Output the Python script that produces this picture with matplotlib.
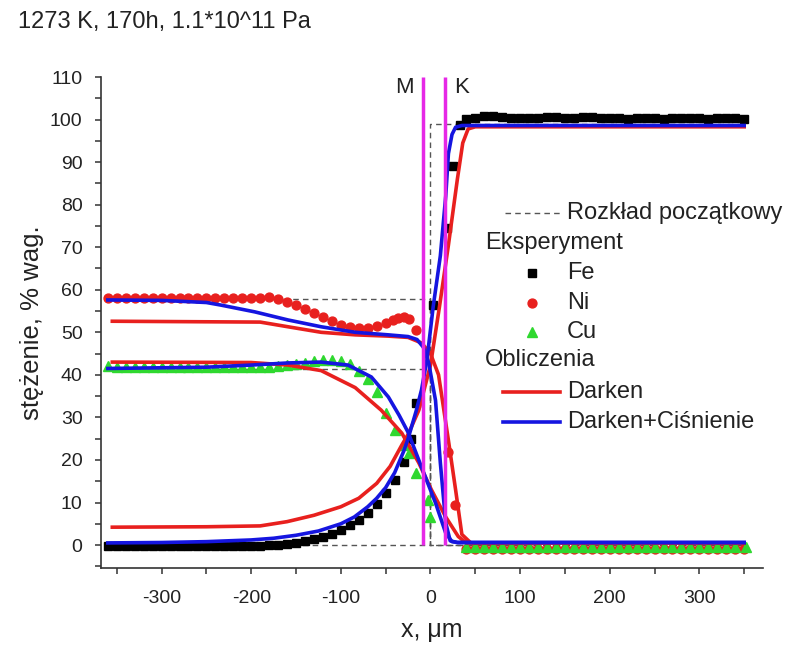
import matplotlib
matplotlib.use("Agg")
import matplotlib.pyplot as plt
from matplotlib.ticker import MultipleLocator

plt.rcParams["font.family"] = ["Liberation Sans", "DejaVu Sans"]
plt.rcParams["axes.unicode_minus"] = False

RED = "#e8201e"
BLUE = "#1515e0"
GREEN = "#2fd82f"
MAGENTA = "#e628e6"
DASH = "#555555"
TXT = "#222222"

# ---------------------------------------------------------------------------
# Data (x in um, concentration in wt%)
# ---------------------------------------------------------------------------

# experiment: Fe (black squares)
fe_x = [-360, -350, -340, -330, -320, -310, -300, -290, -280, -270, -260, -250,
        -240, -230, -220, -210, -200, -190, -180, -170, -160, -150, -140, -130,
        -120, -110, -100, -90, -80, -70, -60, -50, -40, -30, -22, -16, 3, 18,
        25, 33, 40, 50, 60, 70, 80, 90, 100, 110, 120, 130, 140, 150, 160, 170,
        180, 190, 200, 210, 220, 230, 240, 250, 260, 270, 280, 290, 300, 310,
        320, 330, 340, 350]
fe_y = [-0.2, -0.2, -0.2, -0.2, -0.2, -0.2, -0.2, -0.2, -0.2, -0.2, -0.2, -0.2,
        -0.2, -0.2, -0.2, -0.2, -0.2, -0.2, -0.1, 0.1, 0.3, 0.5, 0.9, 1.4,
        2.0, 2.7, 3.6, 4.7, 6.0, 7.6, 9.6, 12.2, 15.4, 19.5, 25.0, 33.5, 56.4, 74.5,
        89.0, 98.8, 100.2, 100.4, 100.8, 100.9, 100.6, 100.4, 100.3, 100.3, 100.4, 100.5,
        100.6, 100.4, 100.3, 100.5, 100.6, 100.3, 100.3, 100.3, 100.2, 100.3, 100.3,
        100.3, 100.2, 100.3, 100.3, 100.3, 100.3, 100.2, 100.3, 100.3, 100.3, 100.2]

# experiment: Ni (red circles)
ni_x = [-360, -350, -340, -330, -320, -310, -300, -290, -280, -270, -260, -250,
        -240, -230, -220, -210, -200, -190, -180, -170, -160, -150, -140, -130,
        -120, -110, -100, -90, -80, -70, -60, -50, -42, -36, -30, -24, -16, 20,
        27, 40, 50, 60, 70, 80, 90, 100, 110, 120, 130, 140, 150, 160, 170, 180,
        190, 200, 210, 220, 230, 240, 250, 260, 270, 280, 290, 300, 310, 320,
        330, 340, 350]
ni_y = [58.0, 58.1, 58.0, 58.1, 58.0, 58.1, 58.0, 58.0, 58.1, 58.0, 58.1, 58.0,
        58.1, 58.0, 58.1, 58.0, 58.1, 58.0, 58.4, 57.8, 57.2, 56.4, 55.5, 54.5,
        53.5, 52.6, 51.8, 51.3, 51.0, 51.0, 51.4, 52.3, 53.0, 53.4, 53.6, 53.2, 50.5, 21.8,
        9.5, -0.9, -0.9, -0.9, -0.9, -0.9, -0.9, -0.9, -0.9, -0.9, -0.9, -0.9, -0.9, -0.9,
        -0.9, -0.9, -0.9, -0.9, -0.9, -0.9, -0.9, -0.9, -0.9, -0.9, -0.9, -0.9, -0.9,
        -0.9, -0.9, -0.9, -0.9, -0.9, -0.9]

# experiment: Cu (green triangles)
cu_x = [-360, -350, -340, -330, -320, -310, -300, -290, -280, -270, -260, -250,
        -240, -230, -220, -210, -200, -190, -180, -170, -160, -150, -140, -130,
        -120, -110, -100, -90, -80, -70, -60, -50, -40, -30, -24, -16, -3, 0,
        40, 50, 60, 70, 80, 90, 100, 110, 120, 130, 140, 150, 160, 170, 180, 190,
        200, 210, 220, 230, 240, 250, 260, 270, 280, 290, 300, 310, 320, 330,
        340, 352]
cu_y = [42.0, 41.8, 41.8, 41.8, 41.8, 41.8, 41.8, 41.8, 41.8, 41.8, 41.8, 41.8,
        41.8, 41.8, 41.8, 41.8, 41.8, 41.8, 41.9, 42.0, 42.3, 42.6, 42.9, 43.2,
        43.4, 43.5, 43.3, 42.5, 41.0, 39.0, 36.0, 31.0, 27.0, 23.5, 21.6, 17.0, 10.6, 6.6,
        -0.5, -0.5, -0.5, -0.5, -0.5, -0.5, -0.5, -0.5, -0.5, -0.5, -0.5, -0.5, -0.5, -0.5,
        -0.5, -0.5, -0.5, -0.5, -0.5, -0.5, -0.5, -0.5, -0.5, -0.5, -0.5, -0.5, -0.5,
        -0.5, -0.5, -0.5, -0.5, -0.5]

# calculation: Darken (red)
darken_fe_x = [-355, -250, -190, -160, -130, -100, -80, -60, -45, -32, -25, -13,
               0, 10, 20, 30, 36, 42, 50, 350]
darken_fe_y = [4.2, 4.3, 4.5, 5.5, 7.0, 9.0, 11.0, 14.5, 18.5, 23.5, 26.0, 31.7,
               42.3, 56.0, 70.5, 86.0, 94.5, 97.8, 98.3, 98.3]
darken_ni_x = [-355, -190, -159, -122, -84, -47, -25, -10, 0, 9, 20, 28, 35, 45, 350]
darken_ni_y = [52.6, 52.4, 51.3, 50.0, 49.4, 49.1, 48.8, 47.5, 45.0, 40.0, 24.6,
               13.0, 2.5, 0.5, 0.5]
darken_cu_x = [-355, -200, -159, -122, -84, -55, -32, -13, 1, 17, 31, 40, 350]
darken_cu_y = [43.0, 42.9, 42.3, 41.0, 37.0, 31.7, 26.3, 19.3, 13.0, 6.6, 2.0, 0.5, 0.5]

# calculation: Darken + pressure (blue)
press_fe_x = [-360, -300, -250, -200, -175, -150, -125, -100, -85, -70, -60, -50,
              -40, -30, -25, -16, -10, -4, 3, 11, 17, 20, 24, 28, 35, 350]
press_fe_y = [0.5, 0.6, 0.8, 1.2, 1.6, 2.3, 3.3, 5.0, 6.6, 9.0, 11.0, 13.5,
              17.0, 22.0, 25.0, 31.5, 36.5, 43.5, 56.0, 68.0, 82.0, 92.0, 96.5,
              98.2, 98.6, 98.6]
press_ni_x = [-360, -300, -250, -234, -196, -159, -122, -84, -47, -25, -15, -8,
              -2, 5.6, 11, 17, 22, 30, 350]
press_ni_y = [57.6, 57.5, 57.0, 56.4, 54.8, 52.9, 51.3, 50.0, 49.4, 49.0, 48.3,
              46.5, 42.8, 34.0, 19.3, 5.2, 1.0, 0.6, 0.6]
press_cu_x = [-360, -250, -200, -159, -122, -92, -66, -47, -35, -25, -10, 5.6,
              17, 24, 30, 350]
press_cu_y = [41.5, 41.8, 42.3, 42.8, 43.0, 42.3, 39.5, 34.8, 30.5, 26.5, 18.3,
              9.9, 2.8, 0.8, 0.6, 0.6]

# initial (step) distribution
init_x = [-360, 0, 0, 352]
init_fe = [0.0, 0.0, 99.0, 99.0]
init_ni = [57.8, 57.8, 0.0, 0.0]
init_cu = [41.4, 41.4, 0.0, 0.0]

# interface markers
M_POS = -8.5
K_POS = 16.0

# ---------------------------------------------------------------------------
# Plot
# ---------------------------------------------------------------------------

fig = plt.figure(figsize=(7.92, 6.46), dpi=100)
ax = fig.add_axes([0.1271, 0.1207, 0.8363, 0.7601])

for ys in (init_fe, init_ni, init_cu):
    ax.plot(init_x, ys, color=DASH, lw=1.0, ls=(0, (4, 3)), zorder=1)

ax.plot(fe_x, fe_y, ls="none", marker="s", ms=5.6, color="black", zorder=2)
ax.plot(ni_x, ni_y, ls="none", marker="o", ms=6.4, color=RED, zorder=2)
ax.plot(cu_x, cu_y, ls="none", marker="^", ms=7, color=GREEN, zorder=2)

for xs, ys in ((darken_fe_x, darken_fe_y), (darken_ni_x, darken_ni_y),
               (darken_cu_x, darken_cu_y)):
    ax.plot(xs, ys, color=RED, lw=2.6, zorder=3, solid_joinstyle="round")
for xs, ys in ((press_fe_x, press_fe_y), (press_ni_x, press_ni_y),
               (press_cu_x, press_cu_y)):
    ax.plot(xs, ys, color=BLUE, lw=2.6, zorder=3, solid_joinstyle="round")

ax.vlines([M_POS, K_POS], 0, 110, color=MAGENTA, lw=2.5, zorder=4)
ax.text(M_POS - 10, 107.5, "M", ha="right", va="center", fontsize=16, color=TXT)
ax.text(K_POS + 10, 107.5, "K", ha="left", va="center", fontsize=16, color=TXT)

# axes styling
ax.set_xlim(-368, 371)
ax.set_ylim(-5.4, 110)
ax.spines[["top", "right"]].set_visible(False)
for s in ("left", "bottom"):
    ax.spines[s].set_linewidth(1.2)
    ax.spines[s].set_color("#333333")
ax.xaxis.set_major_locator(MultipleLocator(100))
ax.xaxis.set_minor_locator(MultipleLocator(50))
ax.yaxis.set_major_locator(MultipleLocator(10))
ax.yaxis.set_minor_locator(MultipleLocator(5))
ax.tick_params(which="both", direction="out", length=4, width=1.1, color="#333333")
ax.tick_params(axis="x", labelsize=14, pad=12, labelcolor=TXT)
ax.tick_params(axis="y", labelsize=14, pad=9, labelcolor=TXT)
ax.set_xlabel("x, μm", fontsize=18, color=TXT, labelpad=8)
ax.set_ylabel("stężenie, % wag.", fontsize=18.5, color=TXT, labelpad=4)

fig.text(18 / 792, 1 - 22 / 646, "1273 K, 170h, 1.1*10^11 Pa", fontsize=17,
         color=TXT, ha="left", va="center")

# legend drawn by hand (section headers sit left of the keys)
T = ax.transAxes
LEG_FS = 17
key_x = 0.651
txt_x = 0.704
ax.plot([0.6105, 0.6935], [0.723, 0.723], transform=T, color=DASH, lw=1.0,
        ls=(0, (4, 3)), clip_on=False)
ax.text(txt_x, 0.723, "Rozkład początkowy", transform=T, fontsize=LEG_FS,
        va="center", color=TXT)
ax.text(0.580, 0.662, "Eksperyment", transform=T, fontsize=LEG_FS, va="center",
        color=TXT)
for y, mk, c, ms, lab in ((0.601, "s", "black", 5.6, "Fe"),
                          (0.540, "o", RED, 6.4, "Ni"),
                          (0.481, "^", GREEN, 7, "Cu")):
    ax.plot([key_x], [y], transform=T, marker=mk, ms=ms, color=c, ls="none",
            clip_on=False)
    ax.text(txt_x, y, lab, transform=T, fontsize=LEG_FS, va="center", color=TXT)
ax.text(0.580, 0.424, "Obliczenia", transform=T, fontsize=LEG_FS, va="center",
        color=TXT)
for y, c, lab in ((0.358, RED, "Darken"), (0.297, BLUE, "Darken+Ciśnienie")):
    ax.plot([0.6075, 0.6935], [y, y], transform=T, color=c, lw=2.6, clip_on=False)
    ax.text(txt_x, y, lab, transform=T, fontsize=LEG_FS, va="center", color=TXT)

fig.savefig("out.png", dpi=100)
